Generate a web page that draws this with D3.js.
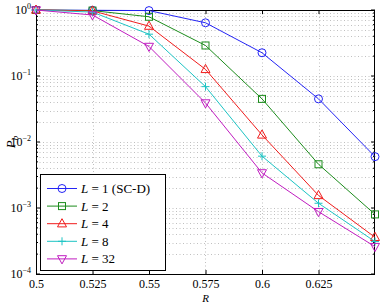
<!DOCTYPE html>
<html>
<head>
<meta charset="utf-8">
<script src="https://cdn.jsdelivr.net/npm/d3@7"></script>
<style>
  body { margin: 0; background: #fff; }
  svg text { font-family: "Liberation Serif", serif; }
</style>
</head>
<body>
<svg id="chart" width="380" height="303"></svg>
<script>
// rate values on the x axis
const rates = [0.5, 0.525, 0.55, 0.575, 0.6, 0.625, 0.65];
const xTicks = [0.5, 0.525, 0.55, 0.575, 0.6, 0.625];
const yDecades = [0, -1, -2, -3, -4];

// P_b per series
const pbL1 = [1.0, 0.99, 0.98, 0.64, 0.225, 0.045, 0.006];
const pbL2 = [1.0, 0.98, 0.79, 0.29, 0.045, 0.0046, 0.0008];
const pbL4 = [1.0, 0.97, 0.57, 0.126, 0.0128, 0.00155, 0.00036];
const pbL8 = [1.0, 0.93, 0.43, 0.069, 0.0061, 0.00118, 0.00031];
const pbL32 = [1.0, 0.84, 0.28, 0.039, 0.0034, 0.00088, 0.00026];

const seriesNames = ["L = 1 (SC-D)", "L = 2", "L = 4", "L = 8", "L = 32"];
const seriesColors = ["#2424f5", "#1c8c1c", "#f01c1c", "#1cc4c4", "#c01cc0"];
const seriesMarkers = ["circle", "square", "triUp", "plus", "triDown"];

const FONT = "Liberation Serif";

const series = [pbL1, pbL2, pbL4, pbL8, pbL32].map((vals, i) => ({
  name: seriesNames[i],
  color: seriesColors[i],
  marker: seriesMarkers[i],
  points: vals.map((v, j) => ({ x: rates[j], y: v })),
}));

const margin = { left: 36, right: 5, top: 10, bottom: 29 };
const W = 380, H = 303;
const svg = d3.select("#chart");

const x = d3.scaleLinear().domain([0.5, 0.65]).range([margin.left, W - margin.right]);
const y = d3.scaleLog().domain([1e-4, 1]).range([H - margin.bottom, margin.top]);

const [x0, x1] = x.range();
const [yb, yt] = y.range();

// grid (dotted)
const grid = svg.append("g").attr("stroke", "#b0b0b0").attr("stroke-width", 0.8)
  .attr("stroke-dasharray", "1,2.5");
const minorVals = [];
yDecades.forEach((d) => {
  if (d === 0) return;
  for (let k = 1; k <= 9; k++) minorVals.push(k * Math.pow(10, d));
});
grid.selectAll(".hgrid").data(minorVals).enter().append("line")
  .attr("x1", x0).attr("x2", x1)
  .attr("y1", (d) => Math.round(y(d)) + 0.5).attr("y2", (d) => Math.round(y(d)) + 0.5);
grid.selectAll(".vgrid").data(xTicks.slice(1)).enter().append("line")
  .attr("x1", (d) => Math.round(x(d)) + 0.5).attr("x2", (d) => Math.round(x(d)) + 0.5)
  .attr("y1", yt).attr("y2", yb);

// axes with inward ticks
const xAxisB = d3.axisBottom(x).tickValues(xTicks).tickSizeInner(-4).tickSizeOuter(0)
  .tickFormat((d) => String(d));
svg.append("g").attr("transform", `translate(0,${yb})`).call(xAxisB)
  .call((g) => {
    g.select(".domain").remove();
    g.attr("font-family", FONT).attr("font-size", 12);
    g.selectAll("text").attr("dy", null).attr("y", 14).attr("fill", "#000");
  });
svg.append("g").attr("transform", `translate(0,${yt})`)
  .call(d3.axisTop(x).tickValues(xTicks).tickSizeInner(-4).tickSizeOuter(0).tickFormat(""))
  .call((g) => g.select(".domain").remove());

const yMajor = yDecades.map((d) => Math.pow(10, d));
const yMinorOnly = minorVals.filter((v) => !yMajor.some((m) => Math.abs(m - v) < 1e-12));
[["left", x0, 1], ["right", x1, -1]].forEach(([side, xp, dir]) => {
  const g = svg.append("g");
  g.selectAll(".maj").data(yMajor).enter().append("line")
    .attr("x1", xp).attr("x2", xp + dir * 4)
    .attr("y1", (d) => y(d)).attr("y2", (d) => y(d)).attr("stroke", "#000");
  g.selectAll(".min").data(yMinorOnly).enter().append("line")
    .attr("x1", xp).attr("x2", xp + dir * 2)
    .attr("y1", (d) => y(d)).attr("y2", (d) => y(d)).attr("stroke", "#000");
});

// y tick labels 10^k
const ylab = svg.append("g").attr("font-family", FONT).attr("font-size", 12);
yDecades.forEach((d) => {
  const t = ylab.append("text").attr("x", x0 - 5).attr("y", y(Math.pow(10, d)) + 4)
    .attr("text-anchor", "end");
  t.append("tspan").text("10");
  t.append("tspan").attr("dy", -5).attr("font-size", 8).text(d === 0 ? "0" : "\u2212" + (-d));
});

// box
svg.append("rect").attr("x", x0 + 0.5).attr("y", yt + 0.5)
  .attr("width", x1 - x0 - 1).attr("height", yb - yt)
  .attr("fill", "none").attr("stroke", "#000").attr("stroke-width", 1);

// axis titles
svg.append("text").attr("x", (x0 + x1) / 2).attr("y", 302).attr("text-anchor", "middle")
  .attr("font-family", FONT).attr("font-style", "italic").attr("font-size", 11).text("R");
const yt1 = svg.append("text").attr("transform", `translate(15,${(yt + yb) / 2}) rotate(-90)`)
  .attr("text-anchor", "middle").attr("font-family", FONT).attr("font-size", 13);
yt1.append("tspan").attr("font-style", "italic").text("P");
yt1.append("tspan").attr("dy", 3).attr("font-style", "italic").attr("font-size", 9).text("b");

// markers
function drawMarker(g, type, color) {
  if (type === "circle") {
    g.append("circle").attr("r", 4).attr("fill", "none").attr("stroke", color);
  } else if (type === "square") {
    g.append("rect").attr("x", -3.5).attr("y", -3.5).attr("width", 7).attr("height", 7)
      .attr("fill", "none").attr("stroke", color);
  } else if (type === "triUp") {
    g.append("path").attr("d", "M0,-5L4.5,3.2L-4.5,3.2Z").attr("fill", "none").attr("stroke", color);
  } else if (type === "triDown") {
    g.append("path").attr("d", "M0,5L4.5,-3.2L-4.5,-3.2Z").attr("fill", "none").attr("stroke", color);
  } else if (type === "plus") {
    g.append("path").attr("d", "M-4,0H4M0,-4V4").attr("fill", "none").attr("stroke", color);
  }
}

const line = d3.line().x((d) => x(d.x)).y((d) => y(d.y));
const plot = svg.append("g");
series.forEach((s) => {
  plot.append("path").datum(s.points).attr("d", line)
    .attr("fill", "none").attr("stroke", s.color).attr("stroke-width", 1);
  s.points.forEach((p) => {
    const g = plot.append("g").attr("transform", `translate(${x(p.x)},${y(p.y)})`);
    drawMarker(g, s.marker, s.color);
  });
});

// legend
const lg = svg.append("g").attr("transform", "translate(40,174)");
lg.append("rect").attr("x", 0.5).attr("y", 0.5).attr("width", 125).attr("height", 96)
  .attr("fill", "#fff").attr("stroke", "#000");
series.forEach((s, i) => {
  const cy = 14.5 + i * 17.6;
  const g = lg.append("g").attr("transform", `translate(0,${cy})`);
  g.append("line").attr("x1", 7).attr("x2", 37).attr("y1", 0).attr("y2", 0)
    .attr("stroke", s.color);
  drawMarker(g.append("g").attr("transform", "translate(22,0)"), s.marker, s.color);
  const t = g.append("text").attr("x", 41).attr("y", 4.5)
    .attr("font-family", FONT).attr("font-size", 13);
  const parts = s.name.split(" ");
  t.append("tspan").attr("font-style", "italic").text("L");
  t.append("tspan").text(" = " + parts[2] + (parts[3] ? " " + parts[3] : ""));
});
</script>
</body>
</html>
